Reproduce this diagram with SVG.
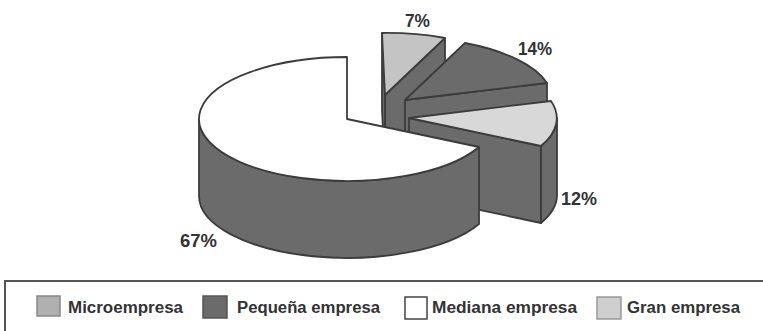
<svg xmlns="http://www.w3.org/2000/svg" width="763" height="331" viewBox="0 0 763 331">
<style>
.face{stroke:#3c3c3c;stroke-width:1.8;stroke-linejoin:round}
.dark{fill:#6b6b6b}
.micro{fill:#c4c4c4}
.gran{fill:#d8d8d8}
.white{fill:#ffffff}
.pct{font-family:"Liberation Sans",Arial,sans-serif;font-weight:bold;font-size:19px;fill:#333333}
.leg{font-family:"Liberation Sans",Arial,sans-serif;font-weight:bold;font-size:16px;fill:#333333}
</style>
<rect width="763" height="331" fill="#ffffff"/>
<g id="slice-micro-7">
  <path class="face dark" d="M385,95 L445,38 L445,115 L385,172 Z"/>
  <path class="face dark" d="M385,95 L382,33 L382,110 L385,172 Z"/>
  <path class="face micro" d="M385,95 L382,33 A148 62 0 0 1 445,38 Z"/>
</g>
<g id="slice-pequena-14">
  <path class="face dark" d="M405,100 L547,83 L547,160 L405,177 Z"/>
  <path class="face dark" d="M405,100 L465,43 A148 62 0 0 1 547,83 Z"/>
</g>
<g id="slice-gran-12">
  <path class="face dark" d="M409,118 L541,146 L541,223 L409,195 Z"/>
  <path class="face dark" d="M557,118 L557,195 A148 62 0 0 1 541,223 L541,146 A148 62 0 0 0 557,118 Z"/>
  <path class="face gran" d="M409,118 L551,101 A148 62 0 0 1 541,146 Z"/>
</g>
<g id="slice-mediana-67">
  <path class="face dark" d="M199,119 L199,196 A148 62 0 0 0 479,224 L479,147 A148 62 0 0 1 199,119 Z"/>
  <path class="face white" d="M347,119 L347,57 A148 62 0 1 0 479,147 Z"/>
</g>
<g id="labels">
  <text class="pct" x="405" y="27" textLength="25" lengthAdjust="spacingAndGlyphs">7%</text>
  <text class="pct" x="518" y="55" textLength="34" lengthAdjust="spacingAndGlyphs">14%</text>
  <text class="pct" x="561" y="205" textLength="36" lengthAdjust="spacingAndGlyphs">12%</text>
  <text class="pct" x="180" y="247" textLength="37" lengthAdjust="spacingAndGlyphs">67%</text>
</g>
<g id="legend">
  <rect x="5" y="281" width="775" height="70" fill="none" stroke="#555555" stroke-width="2"/>
  <rect x="37" y="296" width="23" height="20" fill="#b0b0b0" stroke="#888888" stroke-width="1.5"/>
  <text class="leg" x="68" y="313" textLength="115" lengthAdjust="spacingAndGlyphs">Microempresa</text>
  <rect x="203" y="296" width="24" height="22" fill="#6b6b6b" stroke="#555555" stroke-width="1.5"/>
  <text class="leg" x="237" y="313" textLength="143" lengthAdjust="spacingAndGlyphs">Pequeña empresa</text>
  <rect x="405" y="297" width="22" height="22" fill="#ffffff" stroke="#444444" stroke-width="1.5"/>
  <text class="leg" x="432" y="313" textLength="145" lengthAdjust="spacingAndGlyphs">Mediana empresa</text>
  <rect x="597" y="297" width="24" height="22" fill="#cfcfcf" stroke="#999999" stroke-width="1.5"/>
  <text class="leg" x="627" y="313" textLength="113" lengthAdjust="spacingAndGlyphs">Gran empresa</text>
</g>
</svg>
